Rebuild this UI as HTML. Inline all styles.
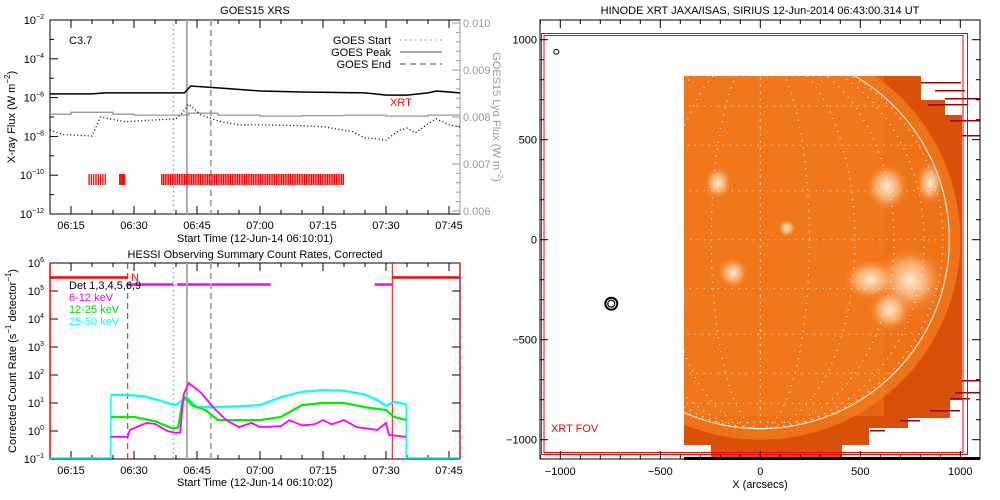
<!DOCTYPE html>
<html><head><meta charset="utf-8"><style>
html,body{margin:0;padding:0;background:#fff}
svg{display:block;font-family:"Liberation Sans",sans-serif}
text{font-size:11px}
</style></head><body>
<svg id="s" width="1000" height="500" viewBox="0 0 1000 500" xmlns="http://www.w3.org/2000/svg">
<defs>
<radialGradient id="bl" cx="0.5" cy="0.5" r="0.5"><stop offset="0" stop-color="#fff4e0" stop-opacity="0.95"/><stop offset="0.5" stop-color="#ffd0a0" stop-opacity="0.6"/><stop offset="1" stop-color="#f27010" stop-opacity="0"/></radialGradient>
<clipPath id="imgclip"><rect x="684" y="76" width="296" height="383"/></clipPath>
</defs>
<g id="top"></g>
<g id="bot"></g>
<g id="img"></g>
</svg>
<script>
// ---------- GOES data (minutes after 06:10) ----------
const goesLongT = [0,10,13,32,33.5,40,50,60,75,80,85,90,92,97.6];
const goesLongV = [-5.81,-5.81,-5.76,-5.76,-5.40,-5.50,-5.66,-5.71,-5.76,-5.87,-5.87,-5.76,-5.66,-5.76];
const goesShortT = [0,3,7,10,12,18,25,30,31.5,33,36,40,45,50,60,65,72,75,77,80,83,85,87,90,92,95,97.6];
const goesShortV = [-7.67,-7.9,-7.95,-7.98,-7.0,-7.25,-7.15,-7.1,-6.8,-6.33,-6.9,-7.2,-7.41,-7.4,-7.45,-7.5,-7.75,-8.08,-8.1,-8.19,-7.7,-7.57,-7.82,-7.35,-7.10,-7.4,-7.52];
const lyaT = [0,5,10,15,20,30,33,40,50,60,70,80,90,97.6];
const lyaV = [0.00806,0.00810,0.00810,0.00806,0.00804,0.00804,0.00808,0.00804,0.00802,0.00803,0.00804,0.00802,0.00804,0.00803];
const xrtRanges = [[9.3,13.6,0.55],[16.6,18.0,0.3],[26.6,69.9,0.42]];
const startT = 29.4, peakT = 32.6, endT = 38.3;
const topYTicks = [-2,-4,-6,-8,-10,-12];
const timeLabels = ["06:15","06:30","06:45","07:00","07:15","07:30","07:45"];
const timeTickMin = [5,20,35,50,65,80,95];
const rightTicks = ["0.006","0.007","0.008","0.009","0.010"];
// ---------- HESSI ----------
const cyanT = [14.5,18,22,26,29,30,31.5,33,35,40,45,50,55,60,65,70,75,78,80,82,84.8];
const cyanV = [1.29,1.29,1.25,1.1,0.95,0.93,1.1,1.14,0.86,0.86,0.88,0.93,1.21,1.40,1.46,1.44,1.3,1.1,0.9,1.05,0.95];
const greenT = [14.5,20,25,29,30.5,31.5,32,34,37,40,45,50,55,60,65,70,75,80,82,84.8];
const greenV = [0.5,0.5,0.35,0.1,0.12,1.0,1.21,0.9,0.75,0.39,0.39,0.39,0.5,0.93,1.0,1.0,0.85,0.75,0.5,0.39];
const magT = [14.5,18.5,19,23,25,28,30,31,31.8,33,36,39,42,45,48,50,55,57,60,63,65,67,70,73,78,80,80.7,84.8];
const magV = [-0.21,-0.21,0.04,0.29,0.25,0.0,-0.07,-0.05,1.3,1.71,1.36,0.82,0.39,0.14,0.29,0.14,0.17,0.39,0.2,0.24,0.39,0.24,0.39,0.14,0.04,0.29,-0.14,-0.21];
const botYTicks = [6,5,4,3,2,1,0,-1];
const attenT = [18.5,81.5];
// ---------- XRT image ----------
const imgTicks = [-1000,-500,0,500,1000];
const activeRegions = [[-212,284,45,55],[633,264,70,80],[848,284,45,70],[748,-202,110,110],[648,-352,70,70],[550,-200,90,70],[-137,-166,50,50],[133,58,30,30],[-450,-300,60,50]];

const S = document.getElementById('s');
const NS = 'http://www.w3.org/2000/svg';
function mk(parent, tag, attrs, txt){
  const e = document.createElementNS(NS, tag);
  for (const k in attrs) e.setAttribute(k, attrs[k]);
  if (txt !== undefined) e.textContent = txt;
  parent.appendChild(e); return e;
}
// ===== TOP PANEL =====
const T = document.getElementById('top');
const X0=50, X1=460, PPM=4.2;
const tx = m => X0 + m*PPM;
const tyTop = v => 20 + (-2 - v)*19.4;
const tyR = v => 23 + (0.010 - v)/0.001*47;
const tyBot = v => 263 + (6 - v)*28;

function poly(g, ts, vs, fy, attrs, name){
  const pts = ts.map((t,i)=>tx(t).toFixed(1)+','+fy(vs[i]).toFixed(1)).join(' ');
  const p = mk(g,'polyline',Object.assign({points:pts,fill:'none'},attrs));
  
  
  return p;
}
function stepPoly(g, ts, vs, fy, attrs, name){
  let pts=[];
  ts.forEach((t,i)=>{ if(i>0) pts.push(tx(t).toFixed(1)+','+fy(vs[i-1]).toFixed(1)); pts.push(tx(t).toFixed(1)+','+fy(vs[i]).toFixed(1)); });
  const p = mk(g,'polyline',Object.assign({points:pts.join(' '),fill:'none'},attrs));
  
  
  return p;
}
let t;
t = mk(T,'text',{x:255,y:14,'text-anchor':'middle','font-size':12}, 'GOES15 XRS');
 
mk(T,'rect',{x:X0,y:20,width:X1-X0,height:194,fill:'none',stroke:'#000','stroke-width':1});
for (let d=-2; d>=-12; d--){
  const y=tyTop(d);
  mk(T,'line',{x1:X0,x2:X0+(d%2===0?8:4),y1:y,y2:y,stroke:'#000'});
}
topYTicks.forEach(d=>{
  const y=tyTop(d);
  const tt=mk(T,'text',{x:44,y:y+4,'text-anchor':'end','font-size':10});
   
  mk(tt,'tspan',{},'10');
  mk(tt,'tspan',{dy:-5,'font-size':7},'−'+(-d));
});
mk(T,'line',{x1:X1,x2:X1,y1:20,y2:214,stroke:'#999'});
rightTicks.forEach((s,i)=>{
  const y=tyR(+s);
  mk(T,'line',{x1:X1,x2:X1-8,y1:y,y2:y,stroke:'#999'});
  const tt=mk(T,'text',{x:463,y:y+4,fill:'#999','font-size':10},s);
   
});
for (let v=0.006; v<0.0101; v+=0.0002){ const y=tyR(v); mk(T,'line',{x1:X1,x2:X1-4,y1:y,y2:y,stroke:'#999'}); }
function xTicks(g, yb, ytop){
  for (let m=0;m<=97;m+=5){
    const x=tx(m), L=(m%15===5)?8:4;
    mk(g,'line',{x1:x,x2:x,y1:yb,y2:yb-L,stroke:'#000'});
    mk(g,'line',{x1:x,x2:x,y1:ytop,y2:ytop+L,stroke:'#000'});
  }
  timeLabels.forEach((s,i)=>{
    const tt=mk(g,'text',{x:tx(timeTickMin[i]),y:yb+15,'text-anchor':'middle','font-size':10},s);
     
  });
}
xTicks(T,214,20);
t=mk(T,'text',{x:255,y:242,'text-anchor':'middle','font-size':11},'Start Time (12-Jun-14 06:10:01)');
 
t=mk(T,'text',{transform:'translate(15,117) rotate(-90)','text-anchor':'middle','font-size':11},'X-ray Flux (W m');
 
mk(t,'tspan',{dy:-5,'font-size':8},'−2'); mk(t,'tspan',{dy:5},')');
t=mk(T,'text',{transform:'translate(493,117) rotate(90)','text-anchor':'middle','font-size':10,fill:'#999'},'GOES15 Lyα Flux (W m');
 
mk(t,'tspan',{dy:-5,'font-size':7},'−2'); mk(t,'tspan',{dy:5},')');
function evLines(g,y0,y1){
  let l;
  l=mk(g,'line',{x1:tx(startT),x2:tx(startT),y1:y0,y2:y1,stroke:'#aaa','stroke-width':1.5,'stroke-dasharray':'1.5,3'});  
  l=mk(g,'line',{x1:tx(peakT),x2:tx(peakT),y1:y0,y2:y1,stroke:'#aaa','stroke-width':2});  
  l=mk(g,'line',{x1:tx(endT),x2:tx(endT),y1:y0,y2:y1,stroke:'#aaa','stroke-width':2,'stroke-dasharray':'6,4'});  
}
evLines(T,20,214);
stepPoly(T,lyaT,lyaV,tyR,{stroke:'#999','stroke-width':1.3},'lyman-alpha-series');
poly(T,goesLongT,goesLongV,tyTop,{stroke:'#000','stroke-width':1.5},'goes-long-series');
poly(T,goesShortT,goesShortV,tyTop,{stroke:'#000','stroke-width':1.3,'stroke-dasharray':'1,2.5'},'goes-short-series');
xrtRanges.forEach(r=>{
  for (let m=r[0]; m<=r[1]+1e-6; m+=r[2]){
    const l=mk(T,'line',{x1:tx(m),x2:tx(m),y1:174,y2:185,stroke:'red','stroke-width':1.3});
     
  }
});
t=mk(T,'text',{x:69,y:44,'font-size':10},'C3.7');  
t=mk(T,'text',{x:390,y:106,'font-size':10,fill:'red'},'XRT');  
[['GOES Start','1.5,3.5',1.5],['GOES Peak',null,2],['GOES End','6,4',2]].forEach((e,i)=>{
  const y=40+i*12;
  const tt=mk(T,'text',{x:391,y:y+4,'text-anchor':'end','font-size':10},e[0]);
   
  const a={x1:400,x2:442,y1:y,y2:y,stroke:'#aaa','stroke-width':e[2]}; if(e[1]) a['stroke-dasharray']=e[1];
  mk(T,'line',a);
});
// ===== BOTTOM PANEL =====
const B=document.getElementById('bot');
t=mk(B,'text',{x:255,y:258,'text-anchor':'middle','font-size':12},'HESSI Observing Summary Count Rates, Corrected');
 
mk(B,'rect',{x:X0,y:263,width:X1-X0,height:196,fill:'none',stroke:'#000'});
botYTicks.forEach(d=>{
  const y=tyBot(d);
  mk(B,'line',{x1:X0,x2:X0+8,y1:y,y2:y,stroke:'#000'});
  mk(B,'line',{x1:X1,x2:X1-8,y1:y,y2:y,stroke:'#000'});
  const tt=mk(B,'text',{x:44,y:y+4,'text-anchor':'end','font-size':10});
   
  mk(tt,'tspan',{},'10'); mk(tt,'tspan',{dy:-5,'font-size':7},d<0?'−'+(-d):''+d);
});
xTicks(B,459,263);
t=mk(B,'text',{x:255,y:486,'text-anchor':'middle','font-size':11},'Start Time (12-Jun-14 06:10:02)');
 
t=mk(B,'text',{transform:'translate(16,361) rotate(-90)','text-anchor':'middle','font-size':11},'Corrected Count Rate (s');
 
mk(t,'tspan',{dy:-5,'font-size':8},'−1'); mk(t,'tspan',{dy:5},' detector'); mk(t,'tspan',{dy:-5,'font-size':8},'−1'); mk(t,'tspan',{dy:5},')');
mk(B,'line',{x1:X0,x2:X0,y1:263,y2:459,stroke:'red','stroke-width':1.5});
mk(B,'line',{x1:X1,x2:X1,y1:263,y2:459,stroke:'red','stroke-width':1.5,'stroke-dasharray':'6,4'});
let l;
l=mk(B,'line',{x1:X0,x2:tx(attenT[0]),y1:277.5,y2:277.5,stroke:'red','stroke-width':2.5});  
l=mk(B,'line',{x1:tx(attenT[1]),x2:X1,y1:277.5,y2:277.5,stroke:'red','stroke-width':2.5});  
l=mk(B,'line',{x1:tx(attenT[0]),x2:tx(attenT[0]),y1:263,y2:459,stroke:'red','stroke-dasharray':'6,4'});  
l=mk(B,'line',{x1:tx(attenT[1]),x2:tx(attenT[1]),y1:263,y2:459,stroke:'red'});  
t=mk(B,'text',{x:131,y:281,'font-size':8,fill:'red'},'N');
[[18.5,29.4],[30.3,52.5],[77.3,81.5]].forEach(r=>{
  const m=mk(B,'line',{x1:tx(r[0]),x2:tx(r[1]),y1:284.5,y2:284.5,stroke:'magenta','stroke-width':2.5});
   
});
evLines(B,263,459);
mk(B,'polyline',{points:`${X0},458 ${tx(cyanT[0])},458 ${tx(cyanT[0])},${tyBot(cyanV[0])}`,fill:'none',stroke:'cyan','stroke-width':1.5});
mk(B,'polyline',{points:`${tx(cyanT[cyanT.length-1])},${tyBot(cyanV[cyanV.length-1])} ${tx(cyanT[cyanT.length-1])},458 ${X1},458`,fill:'none',stroke:'cyan','stroke-width':1.5});
poly(B,cyanT,cyanV,tyBot,{stroke:'cyan','stroke-width':2.2},'series-25-50kev');
poly(B,greenT,greenV,tyBot,{stroke:'#00ee00','stroke-width':2.2},'series-12-25kev');
poly(B,magT,magV,tyBot,{stroke:'magenta','stroke-width':1.8},'series-6-12kev');
[['Det 1,3,4,5,6,9','#000'],['6-12 keV','magenta'],['12-25 keV','#00dd00'],['25-50 keV','cyan']].forEach((e,i)=>{
  const tt=mk(B,'text',{x:69,y:289+i*12,'font-size':10,fill:e[1]},e[0]);
   
});
// ===== RIGHT IMAGE =====
const I=document.getElementById('img');
const ax = v => 760.3 + v*0.2;
const ay = v => 239.7 - v*0.2;
t=mk(I,'text',{x:760,y:14,'text-anchor':'middle','font-size':12},'HINODE XRT JAXA/ISAS, SIRIUS 12-Jun-2014 06:43:00.314 UT');
 
const ig=mk(I,'g',{'clip-path':'url(#imgclip)'});
 
mk(ig,'polygon',{points:'684,76 921,76 921,100 945,100 945,115 962,115 962,400 950,400 950,418 908,418 908,428 869,428 869,445 842,445 842,459 711,459 711,445 684,445',fill:'#d95008'});
mk(ig,'circle',{cx:760.3,cy:239.7,r:200,fill:'#f07218'});
mk(ig,'rect',{x:684,y:76,width:200,height:340,fill:'#f47a1c',opacity:0.5});
activeRegions.forEach(a=>{
  const e=mk(ig,'ellipse',{cx:ax(a[0]),cy:ay(a[1]),rx:a[2]*0.2*1.6,ry:a[3]*0.2*1.6,fill:'url(#bl)'});
   
});
[[921,82,40],[935,90,30],[945,98,35],[928,104,40],[950,120,30],[962,135,18],[962,380,18],[955,392,25],[950,398,20],[930,410,30],[900,420,20],[870,430,15]].forEach(s=>mk(ig,'rect',{x:s[0],y:s[1],width:s[2],height:1.5,fill:'#a00000'}));
const gg=mk(ig,'g',{stroke:'#fff','stroke-width':1,'stroke-dasharray':'1,6',fill:'none',opacity:0.9});
for(let la=-75;la<=75;la+=15){ const y=239.7-189*Math.sin(la*Math.PI/180), hw=189*Math.cos(la*Math.PI/180); mk(gg,'line',{x1:760.3-hw,x2:760.3+hw,y1:y,y2:y}); }
for(let lo=-75;lo<=75;lo+=15){ mk(gg,'ellipse',{cx:760.3,cy:239.7,rx:Math.abs(189*Math.sin(lo*Math.PI/180))+0.1,ry:189}); }
l=mk(ig,'circle',{cx:760.3,cy:239.7,r:189,fill:'none',stroke:'#fff','stroke-width':1});
 
mk(I,'rect',{x:684,y:457,width:296,height:3,fill:'#000'});
mk(I,'circle',{cx:ax(-1020),cy:ay(940),r:2.5,fill:'none',stroke:'#000'});
mk(I,'circle',{cx:ax(-745),cy:ay(-320),r:6,fill:'none',stroke:'#000','stroke-width':2});
mk(I,'circle',{cx:ax(-745),cy:ay(-320),r:3.5,fill:'none',stroke:'#000','stroke-width':1.2});
l=mk(I,'rect',{x:541.5,y:33.5,width:426,height:421,fill:'none',stroke:'red','stroke-width':1});  
mk(I,'rect',{x:544,y:35.5,width:419,height:417,fill:'none',stroke:'red','stroke-width':1});
t=mk(I,'text',{x:551,y:432,'font-size':10,fill:'red'},'XRT FOV');  
mk(I,'rect',{x:540,y:20,width:440,height:439,fill:'none',stroke:'#000'});
for(let v=-1100;v<=1100;v+=100){
  const L=(v%500===0)?8:4, x=ax(v), y=ay(v);
  if(x>=540&&x<=980){ mk(I,'line',{x1:x,x2:x,y1:459,y2:459-L,stroke:'#000'}); mk(I,'line',{x1:x,x2:x,y1:20,y2:20+L,stroke:'#000'}); }
  if(y>=20&&y<=459){ mk(I,'line',{x1:540,x2:540+L,y1:y,y2:y,stroke:'#000'}); mk(I,'line',{x1:980,x2:980-L,y1:y,y2:y,stroke:'#000'}); }
}
imgTicks.forEach(v=>{
  const s=v<0?'−'+(-v):''+v;
  let a=mk(I,'text',{x:ax(v),y:475,'text-anchor':'middle','font-size':10},s);  
  a=mk(I,'text',{x:537,y:ay(v)+4,'text-anchor':'end','font-size':10},s);  
});
t=mk(I,'text',{x:760,y:488,'text-anchor':'middle','font-size':10},'X (arcsecs)');  
</script>
</body></html>
